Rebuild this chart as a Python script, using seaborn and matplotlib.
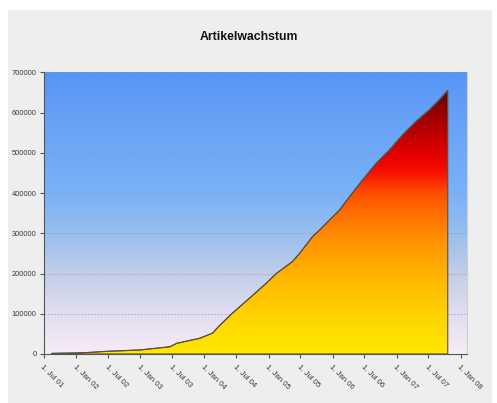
import numpy as np
import pandas as pd
import matplotlib
matplotlib.use("Agg")
import matplotlib.pyplot as plt
import matplotlib.dates as mdates
from matplotlib.colors import LinearSegmentedColormap
from matplotlib.patches import Rectangle
import seaborn as sns

# Article count over time
dates = ["2001-08-14", "2002-01-01", "2002-03-20", "2002-06-23", "2002-12-30",
         "2003-06-19", "2003-07-27", "2003-12-05", "2004-02-17", "2004-03-28",
         "2004-06-10", "2004-09-15", "2004-12-19", "2005-02-14", "2005-05-18",
         "2005-06-27", "2005-09-09", "2005-10-19", "2005-11-26", "2006-02-10",
         "2006-04-08", "2006-06-22", "2006-09-07", "2006-11-21", "2007-02-05",
         "2007-04-22", "2007-07-07", "2007-09-02", "2007-10-19"]
articles = [1500, 2500, 4000, 6600, 10000,
            18000, 26500, 39000, 52000, 71000,
            102000, 139000, 176000, 200000, 230000,
            250000, 292000, 308000, 325000, 358000,
            391000, 433000, 474000, 507000, 545000,
            578000, 607000, 632000, 655000]

tick_dates = ["2001-07-01", "2002-01-01", "2002-07-01", "2003-01-01", "2003-07-01",
              "2004-01-01", "2004-07-01", "2005-01-01", "2005-07-01", "2006-01-01",
              "2006-07-01", "2007-01-01", "2007-07-01", "2008-01-01"]
tick_labels = ["1. Jul 01", "1. Jan 02", "1. Jul 02", "1. Jan 03", "1. Jul 03",
               "1. Jan 04", "1. Jul 04", "1. Jan 05", "1. Jul 05", "1. Jan 06",
               "1. Jul 06", "1. Jan 07", "1. Jul 07", "1. Jan 08"]
y_ticks = [0, 100000, 200000, 300000, 400000, 500000, 600000, 700000]

title = "Artikelwachstum"

df = pd.DataFrame({"date": pd.to_datetime(dates), "articles": articles})

sns.set_theme(style="white")
plt.rcParams["font.family"] = ["Liberation Sans", "DejaVu Sans"]
tick_font = ["Liberation Sans Narrow", "Liberation Sans", "DejaVu Sans"]

W, H = 497, 403
fig = plt.figure(figsize=(W / 100, H / 100), dpi=100, facecolor="white")
# light grey panel behind the chart
fig.patches.append(Rectangle((8 / W, 0), (492 - 8) / W, (H - 10) / H,
                             transform=fig.transFigure, facecolor="#eeeeee",
                             edgecolor="none", zorder=-10))

ax = fig.add_axes([43.5 / W, 1 - 354 / H, (466.7 - 43.5) / W, (354 - 72.3) / H])
ax.set_zorder(5)

xmin = mdates.date2num(pd.Timestamp("2001-06-28"))
xmax = mdates.date2num(pd.Timestamp("2008-02-04"))
ymax = 700000

# vertical gradients
bg_cmap = LinearSegmentedColormap.from_list("bg", [
    (0.00, (246/255, 236/255, 246/255)),
    (0.14, (226/255, 222/255, 240/255)),
    (0.29, (192/255, 205/255, 232/255)),
    (0.43, (150/255, 190/255, 238/255)),
    (0.57, (122/255, 178/255, 246/255)),
    (0.86, (100/255, 160/255, 247/255)),
    (1.00, (88/255, 148/255, 246/255)),
])
fill_cmap = LinearSegmentedColormap.from_list("fill", [
    (0.00, (255/255, 232/255, 0)),
    (0.14, (255/255, 210/255, 0)),
    (0.29, (255/255, 178/255, 0)),
    (0.43, (255/255, 138/255, 0)),
    (0.57, (255/255, 80/255, 0)),
    (0.645, (250/255, 15/255, 0)),
    (0.71, (225/255, 0, 0)),
    (0.86, (150/255, 0, 0)),
    (0.94, (95/255, 5/255, 5/255)),
    (1.00, (70/255, 0, 0)),
])
grad = np.linspace(0, 1, 512).reshape(-1, 1)

ax.imshow(grad, extent=[xmin, xmax, 0, ymax], origin="lower", aspect="auto",
          cmap=bg_cmap, zorder=0.1, interpolation="bicubic")

poly = ax.fill_between(df["date"], 0, df["articles"], facecolor="none",
                       edgecolor="#5a5040", linewidth=0.8, zorder=3)
im = ax.imshow(grad, extent=[xmin, xmax, 0, ymax], origin="lower", aspect="auto",
               cmap=fill_cmap, zorder=2, interpolation="bicubic")
im.set_clip_path(poly.get_paths()[0], transform=ax.transData)

sns.lineplot(data=df, x="date", y="articles", ax=ax, color="#5a5040",
             linewidth=0.8, zorder=4)

ax.set_xlim(xmin, xmax)
ax.set_ylim(0, ymax)

ax.set_axisbelow(True)
ax.yaxis.grid(True, linestyle=(0, (2, 2)), color="#9a9aaa", linewidth=0.6, alpha=0.8)
ax.xaxis.grid(False)

ax.set_yticks(y_ticks)
ax.set_yticklabels([str(v) for v in y_ticks], family=tick_font, fontsize=5.4,
                   color="#3a3a3a")
ax.set_xticks(mdates.date2num(pd.to_datetime(tick_dates)))
ax.set_xticklabels(tick_labels, family=tick_font, fontsize=5.6, color="#3a3a3a",
                   rotation=-45, ha="left", va="top", rotation_mode="anchor")
ax.tick_params(axis="both", direction="out", length=3, width=0.8,
               color="#555555", bottom=True, left=True, pad=2)
ax.tick_params(axis="x", pad=4)

ax.set_xlabel("")
ax.set_ylabel("")
for side in ("left", "bottom"):
    ax.spines[side].set_color("#555555")
    ax.spines[side].set_linewidth(0.8)
ax.spines["top"].set_visible(False)
ax.spines["right"].set_color("#cfcfcf")
ax.spines["right"].set_linewidth(0.8)

fig.text(0.5, 1 - 37.5 / H, title, ha="center", va="center", fontsize=8.8,
         fontweight="bold", color="#111111")

fig.savefig("out.png", dpi=100, facecolor=fig.get_facecolor())
